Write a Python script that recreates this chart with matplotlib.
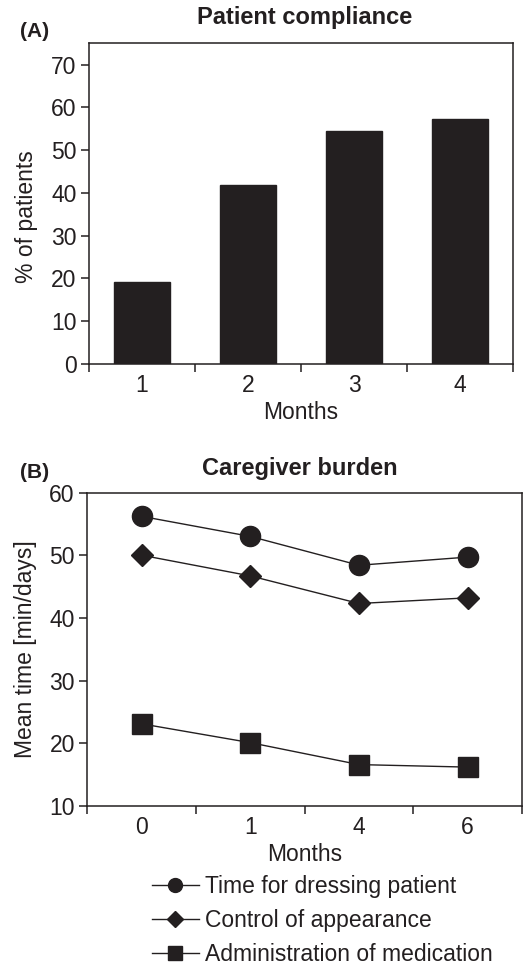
import matplotlib
matplotlib.use("Agg")
import matplotlib.pyplot as plt
from matplotlib.lines import Line2D
import numpy as np

plt.rcParams['font.family'] = ['Liberation Sans', 'DejaVu Sans']

# Panel A data
months_a = ['1', '2', '3', '4']
compliance = [19.1, 41.9, 54.6, 57.3]

# Panel B data
months_b = ['0', '1', '4', '6']
dressing = [56.2, 53.0, 48.4, 49.7]
appearance = [50.0, 46.7, 42.3, 43.2]
medication = [23.1, 20.1, 16.6, 16.2]
series_labels = ['Time for dressing patient', 'Control of appearance', 'Administration of medication']

INK = '#231f20'
FS = 16.5

fig = plt.figure(figsize=(5.23, 9.65), dpi=100)

def style_axes(ax, ncat):
    for s in ax.spines.values():
        s.set_color(INK)
        s.set_linewidth(1.1)
    ax.set_xlim(-0.5, ncat - 0.5)
    ax.set_xticks(np.arange(ncat))
    ax.set_xticks(np.arange(ncat + 1) - 0.5, minor=True)
    ax.tick_params(axis='x', which='major', length=0, labelsize=FS, colors=INK, pad=7)
    ax.tick_params(axis='x', which='minor', length=6, width=1.1, color=INK, direction='out')
    ax.tick_params(axis='y', length=6, width=1.1, color=INK, labelsize=FS, labelcolor=INK, direction='out', pad=3)

# Panel A
axA = fig.add_axes([0.170, 0.6228, 0.811, 0.3323])
xa = np.arange(len(months_a))
axA.bar(xa, compliance, width=0.53, color=INK, edgecolor=INK)
style_axes(axA, len(months_a))
axA.set_xticklabels(months_a)
axA.set_ylim(0, 75)
axA.set_yticks(np.arange(0, 71, 10))
axA.set_xlabel('Months', fontsize=FS, color=INK, labelpad=3)
axA.set_ylabel('% of patients', fontsize=FS, color=INK, labelpad=9)
axA.yaxis.label.set_y(0.46)
fig.text(0.583, 0.982, 'Patient compliance', ha='center', va='center', fontsize=17, fontweight='bold', color=INK)
fig.text(0.038, 0.967, '(A)', ha='left', va='center', fontsize=15, fontweight='bold', color=INK)

# Panel B
axB = fig.add_axes([0.167, 0.1648, 0.831, 0.3248])
xb = np.arange(len(months_b))
axB.plot(xb, dressing, color=INK, lw=1.0, marker='o', ms=14.5, mfc=INK, mec=INK)
axB.plot(xb, appearance, color=INK, lw=1.0, marker='D', ms=11.5, mfc=INK, mec=INK)
axB.plot(xb, medication, color=INK, lw=1.0, marker='s', ms=14, mfc=INK, mec=INK)
style_axes(axB, len(months_b))
axB.set_xticklabels(months_b)
axB.set_ylim(10, 60)
axB.set_yticks(np.arange(10, 61, 10))
axB.set_xlabel('Months', fontsize=FS, color=INK, labelpad=3)
axB.set_ylabel('Mean time [min/days]', fontsize=FS, color=INK, labelpad=9)
fig.text(0.574, 0.514, 'Caregiver burden', ha='center', va='center', fontsize=17, fontweight='bold', color=INK)
fig.text(0.038, 0.510, '(B)', ha='left', va='center', fontsize=15, fontweight='bold', color=INK)

handles = [
    Line2D([], [], color=INK, lw=1.0, marker='o', ms=10, mfc=INK, mec=INK),
    Line2D([], [], color=INK, lw=1.0, marker='D', ms=8, mfc=INK, mec=INK),
    Line2D([], [], color=INK, lw=1.0, marker='s', ms=10, mfc=INK, mec=INK),
]
fig.legend(handles, series_labels, loc='upper left', bbox_to_anchor=(0.268, 0.105),
           frameon=False, fontsize=FS, handlelength=2.05, handletextpad=0.3,
           labelspacing=0.47, borderpad=0, labelcolor=INK)

fig.savefig('out.png', dpi=100)
